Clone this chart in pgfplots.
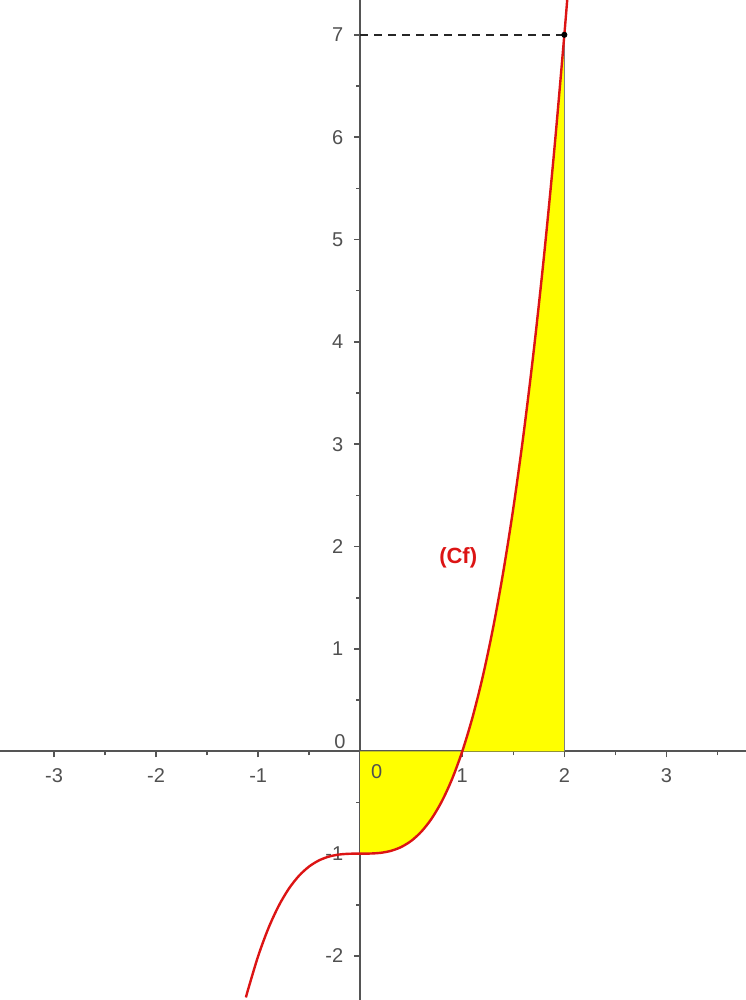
\documentclass[border=0pt]{standalone}
\usepackage{pgfplots}
\pgfplotsset{compat=1.18}
\usepackage{fontspec}
\setmainfont{Liberation Sans}
\definecolor{axisgray}{RGB}{85,85,85}
\definecolor{labgray}{RGB}{80,80,80}
\definecolor{curvered}{RGB}{220,20,20}
\definecolor{fillyellow}{RGB}{255,255,0}

\begin{document}
\begin{tikzpicture}
\begin{axis}[
  scale only axis,
  width=373pt, height=500pt,
  xmin=-3.53, xmax=3.78,
  ymin=-2.43, ymax=7.34,
  axis lines=middle,
  axis line style={-, axisgray, line width=0.8pt},
  xtick={-3,-2,-1,1,2,3},
  ytick={-2,-1,1,2,3,4,5,6,7},
  minor xtick={-2.5,-1.5,-0.5,0.5,1.5,2.5,3.5},
  minor ytick={-1.5,-0.5,0.5,1.5,2.5,3.5,4.5,5.5,6.5},
  tick align=outside,
  major tick length=3pt,
  minor tick length=2pt,
  tick style={axisgray, line width=0.8pt},
  /pgf/number format/assume math mode=true,
  ticklabel style={font=\fontsize{10}{11}\selectfont, text=labgray},
  xticklabel style={yshift=-2pt},
  yticklabel style={xshift=-2pt},
  clip mode=individual,
]
% shaded area between the curve and the x axis, 0 <= x <= 2
\addplot[draw=none, fill=fillyellow] coordinates {
  (0,0) (0,-1) (0.1,-0.999) (0.2,-0.992) (0.3,-0.973) (0.4,-0.936)
  (0.5,-0.875) (0.6,-0.784) (0.7,-0.657) (0.8,-0.488) (0.9,-0.271)
  (1.0,0) (1.1,0.331) (1.2,0.728) (1.3,1.197) (1.4,1.744) (1.5,2.375)
  (1.6,3.096) (1.7,3.913) (1.8,4.832) (1.9,5.859) (2.0,7) (2.0,0)
} -- cycle;
\addplot[gray, line width=0.7pt] coordinates {(2,0) (2,7)};
\addplot[black!85, dashed, dash pattern=on 4pt off 3pt, line width=0.9pt] coordinates {(0,7) (2,7)};
% curve (Cf)
\addplot[curvered, line width=1.2pt, smooth] coordinates {
  (-1.12,-2.405) (-1.1,-2.331) (-1.0,-2) (-0.9,-1.729) (-0.8,-1.512)
  (-0.7,-1.343) (-0.6,-1.216) (-0.5,-1.125) (-0.4,-1.064) (-0.3,-1.027)
  (-0.2,-1.008) (-0.1,-1.001) (0,-1) (0.1,-0.999) (0.2,-0.992)
  (0.3,-0.973) (0.4,-0.936) (0.5,-0.875) (0.6,-0.784) (0.7,-0.657)
  (0.8,-0.488) (0.9,-0.271) (1.0,0) (1.1,0.331) (1.2,0.728) (1.3,1.197)
  (1.4,1.744) (1.5,2.375) (1.6,3.096) (1.7,3.913) (1.8,4.832)
  (1.9,5.859) (2.0,7) (2.05,7.615)
};
\addplot[only marks, mark=*, mark size=1.3pt, black] coordinates {(2,7)};
\node[font=\fontsize{10}{11}\selectfont, text=labgray] at (axis cs:0.16,-0.2) {0};
\node[font=\fontsize{10}{11}\selectfont, text=labgray] at (axis cs:-0.2,0.09) {0};
\node[font=\bfseries\fontsize{11}{12}\selectfont, text=curvered] at (axis cs:0.96,1.89) {(Cf)};
\coordinate (bl) at (rel axis cs:0,0);
\coordinate (tr) at (rel axis cs:1,1);
\end{axis}
\pgfresetboundingbox
\path (bl) rectangle (tr);
\end{tikzpicture}
\end{document}
